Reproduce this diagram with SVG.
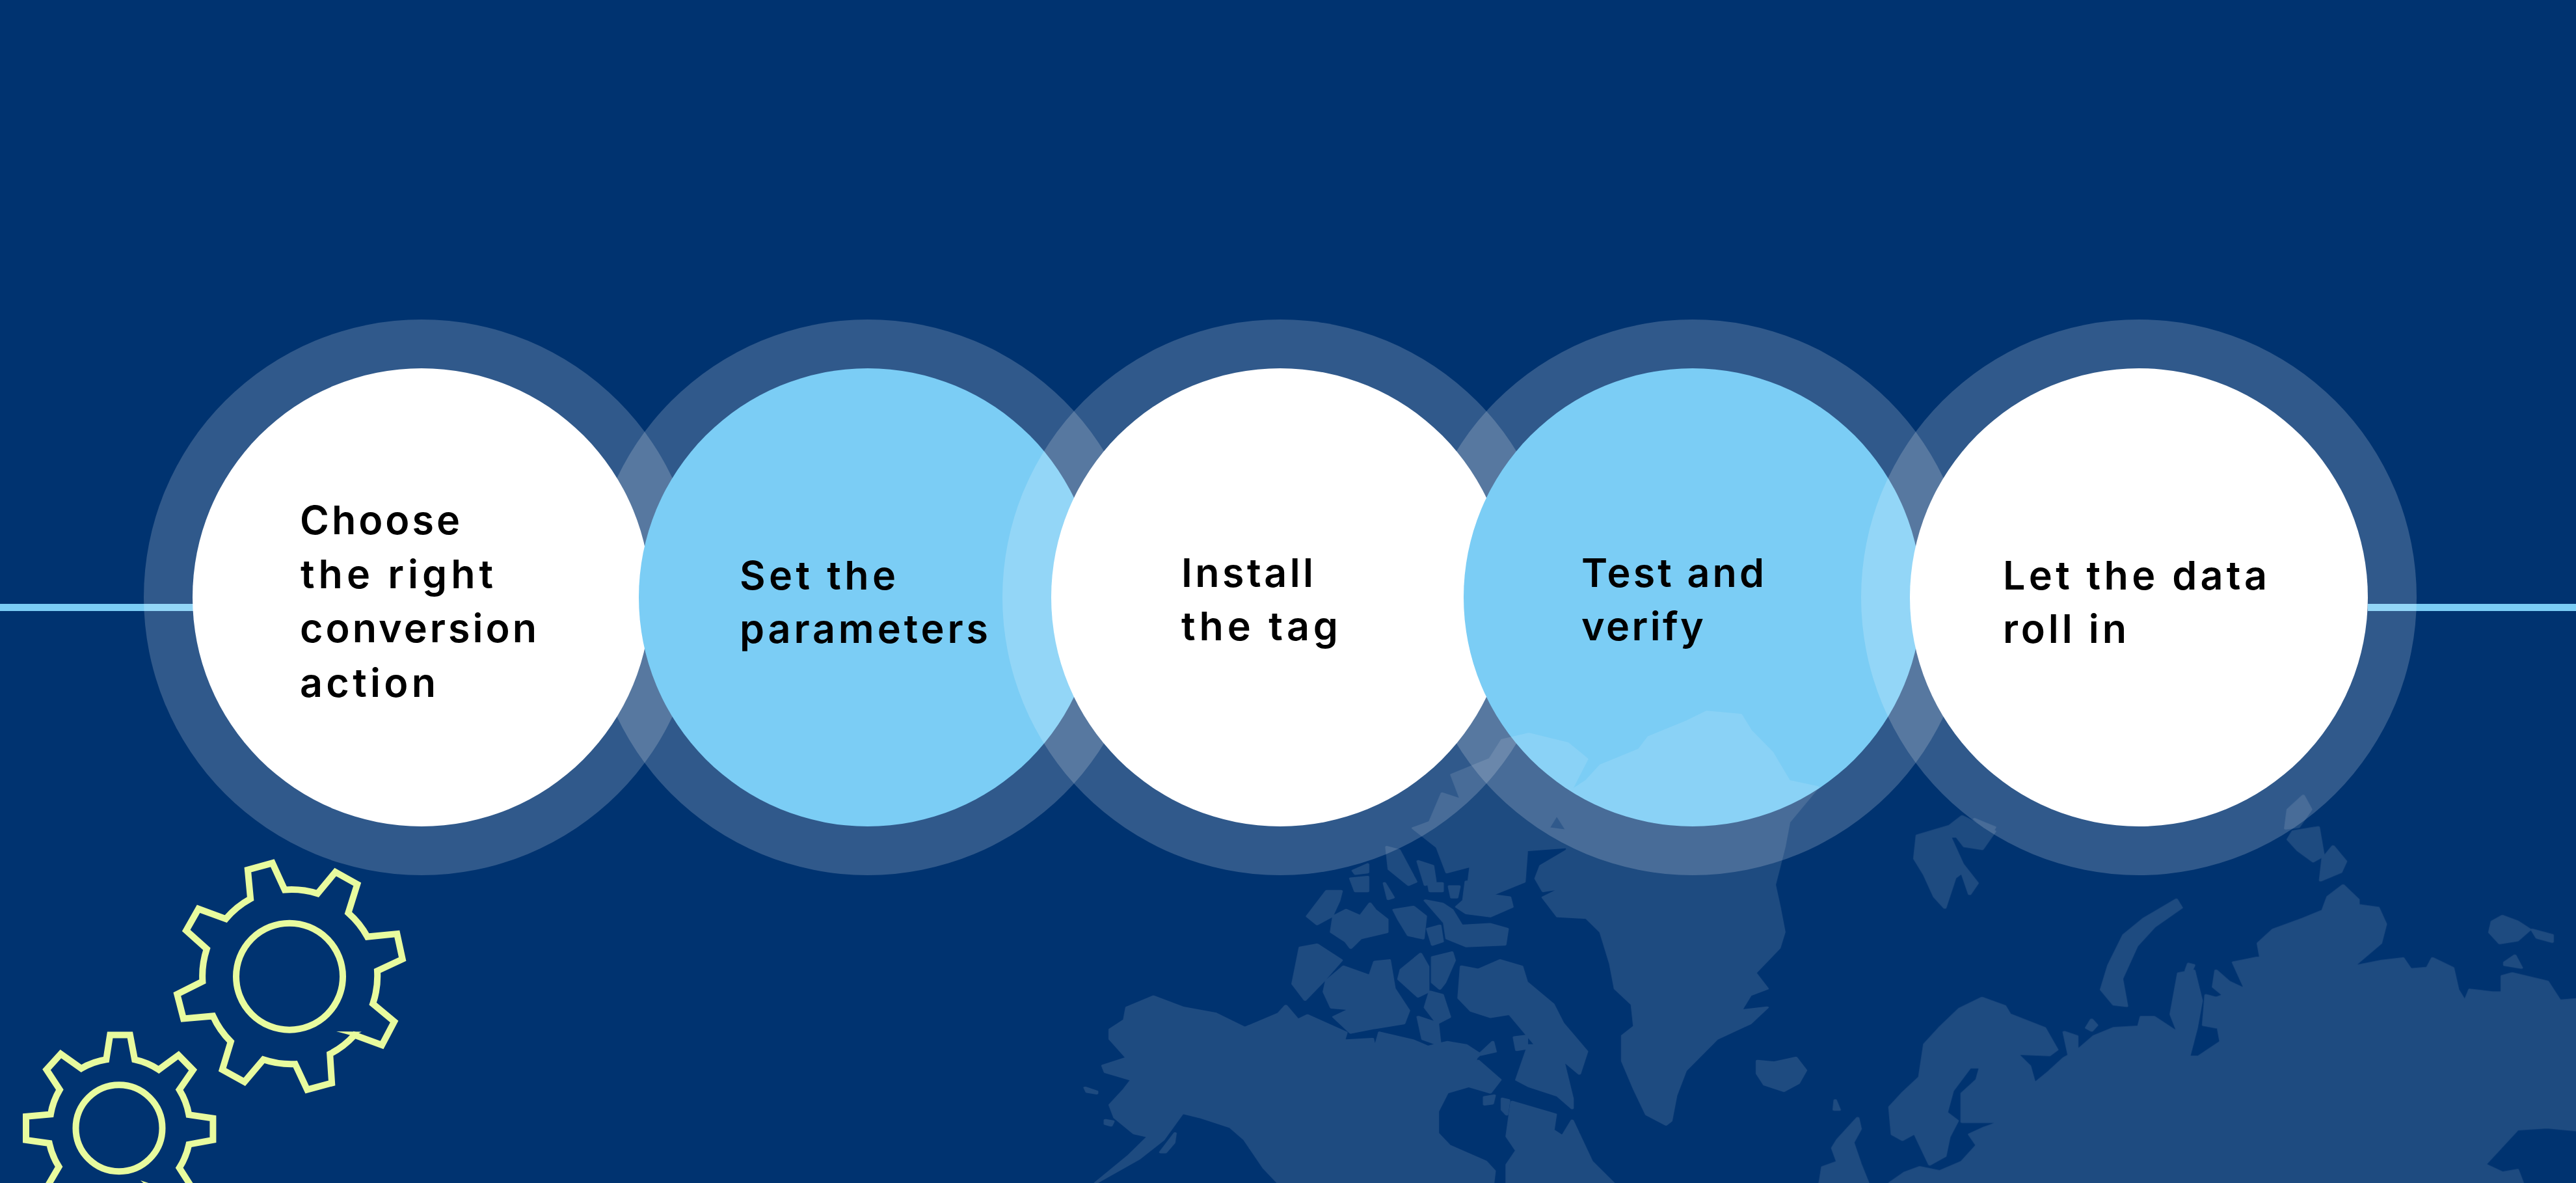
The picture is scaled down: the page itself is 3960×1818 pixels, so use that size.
<svg xmlns="http://www.w3.org/2000/svg" width="3960" height="1818" viewBox="0 0 3960 1818">
<style>
.ring{fill:#fff;fill-opacity:.19}
.w{fill:#fff}
.b{fill:#7bcdf5}
text{font-family:"Inter","Liberation Sans",sans-serif;font-size:61px;font-weight:600;fill:#000}
.gear{fill:none;stroke:#e8fb9e;stroke-width:10;stroke-miterlimit:10}
.spur{fill:#e8fb9e}
.line{fill:#7bcdf5}
#map path{stroke:#fff;stroke-width:7;stroke-linejoin:round}
</style>
<rect width="3960" height="1818" fill="#003370"/>
<g id="connectors">
<rect class="line" x="0" y="928" width="300" height="11"/>
<rect class="line" x="3640" y="928" width="320" height="11"/>
</g>
<g id="step1"><circle class="ring" cx="648" cy="918" r="427"/><circle class="w" cx="648" cy="918" r="352"/></g>
<g id="step2"><circle class="ring" cx="1334" cy="918" r="427"/><circle class="b" cx="1334" cy="918" r="352"/></g>
<g id="step3"><circle class="ring" cx="1968" cy="918" r="427"/><circle class="w" cx="1968" cy="918" r="352"/></g>
<g id="step4"><circle class="ring" cx="2602" cy="918" r="427"/><circle class="b" cx="2602" cy="918" r="352"/></g>
<g id="step5"><circle class="ring" cx="3288" cy="918" r="427"/><circle class="w" cx="3288" cy="918" r="352"/></g>
<g id="map" fill="#fff" opacity=".12">
<g transform="translate(1640 1060) scale(.7398 .4834)">
<path d="M1330 70L1290 100 1210 150 1190 190 1110 240 1080 290 1040 330 1020 400 1045 460 1040 510 985 560 975 600 990 640 1030 630 990 660 1020 720 1080 725 1110 770 1130 870 1140 950 1175 1000 1180 1070 1155 1100 1155 1180 1180 1270 1205 1350 1245 1382 1255 1370 1265 1290 1285 1210 1350 1110 1420 1060 1455 1010 1400 1020 1420 970 1455 950 1430 900 1480 820 1490 770 1480 690 1470 620 1490 500 1500 420 1560 310 1500 290 1465 200 1420 130 1400 80Z"/>
<path d="M960 140L905 160 880 220 800 270 820 350 780 330 755 420 720 440 770 500 790 580 840 560 835 620 870 660 950 610 955 510 1040 500 1050 450 1000 440 1040 340 1080 220 1040 170Z"/>
<path d="M180 975L240 1010 310 1030 370 1075 440 1030 455 1005 480 1050 500 1035 580 1090 575 1115 635 1110 640 1145 650 1090 720 1115 750 1135 790 1120 830 1130 860 1160 890 1150 885 1120 850 1170 835 1260 790 1280 770 1340 770 1410 795 1450 870 1500 888 1530 885 1568 440 1568 410 1520 370 1430 340 1390 280 1360 240 1345 200 1430 150 1490 60 1568 130 1480 170 1420 140 1410 100 1360 90 1320 120 1270 135 1240 80 1215 75 1195 125 1170 90 1110 90 1080 120 1050 125 1010Z"/>
<path d="M915 1568L915 1510 935 1465 915 1420 925 1310 1015 1350 1010 1400 1030 1420 1050 1370 1090 1500 1135 1568Z"/>
<path d="M855 890L900 860 945 880 955 930 1010 1000 1030 1060 1080 1150 1065 1220 1030 1175 1050 1300 1050 1330 1020 1290 960 1260 935 1240 960 1130 975 1130 920 1030 880 1040 840 1020 815 980 820 880Z"/>
<path d="M835 1260L855 1180 900 1240 880 1280Z"/>
<path d="M930 1105L955 1100 955 1140 935 1145Z"/>
<path d="M868 1295L888 1290 884 1315 868 1318Z"/>
<path d="M905 1300L918 1305 914 1350 905 1335Z"/>
<path d="M195 1470L225 1410 222 1440 205 1470Z"/>
<path d="M80 1368L96 1372 92 1385 80 1380Z"/>
<path d="M540 925L575 880 630 910 640 865 670 860 680 950 710 1020 700 1060 640 1075 590 1090 555 1040 590 1015 550 1010 535 960Z"/>
<path d="M485 820L520 810 570 860 530 930 495 985 470 935Z"/>
<path d="M695 890L735 840 750 880 750 960 730 975 690 920Z"/>
<path d="M760 850L800 835 805 860 785 930 775 950 760 930Z"/>
<path d="M755 960L780 970 795 1040 770 1060 745 1010Z"/>
<path d="M730 1040L770 1060 775 1130 740 1110Z"/>
<path d="M500 720L540 640 570 640 565 670 550 720 520 745Z"/>
<path d="M555 720L580 700 610 720 630 680 640 700 665 730 665 770 610 790 590 820 580 800 550 770Z"/>
<path d="M590 600L625 595 625 640 600 640Z"/>
<path d="M595 575L625 555 625 580 600 585Z"/>
<path d="M665 500L690 510 725 610 710 620 670 570Z"/>
<path d="M730 545L760 560 765 610 745 620Z"/>
<path d="M660 615L678 660 668 665Z"/>
<path d="M752 615L780 615 780 640 755 640Z"/>
<path d="M795 625L815 625 810 660 800 660Z"/>
<path d="M680 700L720 690 745 720 740 790 710 780 690 730Z"/>
<path d="M750 760L775 750 780 800 760 810Z"/>
<path d="M745 670L780 680 800 700 820 750 880 745 915 760 910 810 830 815 790 790 785 740Z"/>
<path d="M810 690L825 670 830 610 850 610 870 650 920 660 925 690 880 720 830 710Z"/>
<path d="M1435 1180L1470 1185 1515 1170 1535 1210 1520 1250 1490 1275 1450 1255 1435 1220Z"/>
<path d="M38 1265L62 1277 62 1283 42 1278Z"/>
</g>
<g transform="translate(2760 1160) scale(.7653 .4196)">
<path d="M245 295L310 260 335 225 385 270 400 280 375 345 340 335 325 300 310 300 335 400 365 470 350 510 335 430 320 450 300 560 280 520 260 440 240 380Z"/>
<path d="M765 530L775 560 720 630 685 700 655 820 665 920 640 915 615 860 630 770 660 660 700 600Z"/>
<path d="M1020 150L1035 200 1010 265 985 270 990 200Z"/>
<path d="M1000 280L1050 265 1060 370 1040 390 1010 350 990 310Z"/>
<path d="M1080 335L1105 390 1095 430 1055 460 1060 380Z"/>
<path d="M1100 478L1130 530 1130 550 1170 560 1185 620 1175 690 1120 775 1175 755 1220 745 1235 785 1270 780 1280 745 1320 780 1330 860 1345 905 1355 860 1400 870 1420 870 1420 810 1440 800 1510 830 1535 900 1568 895 1568 1375 1510 1365 1450 1372 1385 1500 1420 1530 1450 1520 1460 1568 190 1568 220 1530 250 1510 290 1525 335 1490 365 1430 350 1390 380 1365 410 1345 335 1345 335 1240 365 1190 372 1145 350 1145 315 1230 303 1310 325 1340 308 1400 300 1470 270 1500 240 1385 215 1410 195 1390 190 1290 215 1240 250 1180 260 1060 290 1000 330 930 375 890 420 920 430 950 500 1000 525 1080 510 1100 445 1095 470 1140 480 1205 510 1160 540 1110 550 1100 540 1015 565 1030 565 1085 600 1030 640 1000 690 995 695 960 720 960 770 1020 755 950 770 800 800 790 815 900 805 1000 790 1105 810 1105 855 1050 850 1000 820 990 825 880 845 890 860 880 840 850 845 790 870 830 905 860 880 760 935 740 930 690 960 640 1020 600 1060 570 1070 520Z"/>
<path d="M1400 610L1420 590 1450 610 1475 640 1450 680 1415 690 1395 650Z"/>
<path d="M1480 640L1520 660 1520 685 1490 670Z"/>
<path d="M1425 760L1445 735 1458 780 1425 770Z"/>
<path d="M790 765L800 770 795 790 785 790Z"/>
<path d="M595 970L605 990 595 1010 585 1000Z"/>
<path d="M85 1410L125 1330 130 1370 115 1420 130 1500 145 1568 50 1568 55 1510 85 1490 75 1440Z"/>
<path d="M80 1265L88 1300 78 1300Z"/>
<path d="M360 235L400 265 395 280Z"/>
</g>
</g>
<g id="gears">
<g id="gear-large">
<circle class="gear" cx="445" cy="1500.7" r="82"/>
<path class="gear" d="M385.100 1381.200L380.900 1336.600 418.800 1326.300 437.700 1367.500A133 133 0 0 1 488.200 1373.300L515.600 1340.100 549.200 1358.900 535.400 1402.900A133 133 0 0 1 564.800 1439.600L610.300 1435.100 618.700 1473.900 580 1492.100A133 133 0 0 1 573.200 1542.500L606.100 1570 587.100 1606 545 1590.600A133 133 0 0 1 507.200 1619.700L510.100 1664.400 472.200 1674.600 453.700 1635.200A133 133 0 0 1 404.900 1628.300L375.800 1662.600 341.800 1643.800 354.800 1600.900A133 133 0 0 1 327.400 1561.400L282 1565.500 272.300 1527.800 311.400 1508.200A133 133 0 0 1 317.800 1458.400L286.200 1430 305.100 1396.700 347.200 1412.100A133 133 0 0 1 385.100 1381.200Z"/>
<path class="spur" d="M517 1585L556 1585.500 543 1592Z"/>
</g>
<g id="gear-small">
<circle class="gear" cx="183" cy="1733.7" r="66.5"/>
<path class="gear" d="M163.300 1628.300L169.200 1590.600 199.900 1590.600 207.100 1628.300A108 108 0 0 1 244.100 1643.800L274.400 1621.500 296.700 1644.400 275.700 1674.600A108 108 0 0 1 290.400 1713.100L327.400 1718.600 327.400 1751.900 290.400 1758.700A108 108 0 0 1 275.700 1794.800L295.500 1825.600 295.500 1840 71.500 1840 71.500 1825.600 90.500 1793A108 108 0 0 1 75.800 1757L40 1751.900 40 1715.800 77.900 1712.400A108 108 0 0 1 91.800 1674.600L71.500 1643.800 93.400 1619.700 125 1642A108 108 0 0 1 163.300 1628.300Z"/>
<path class="spur" d="M216 1814L250 1825 228 1825Z"/>
</g>
</g>
<g id="labels">
<text x="461" y="821" textLength="246">Choose</text>
<text x="462" y="904" textLength="296">the right</text>
<text x="461" y="987" textLength="364">conversion</text>
<text x="461" y="1071" textLength="209">action</text>
<text x="1137" y="906" textLength="240">Set the</text>
<text x="1137" y="988" textLength="382">parameters</text>
<text x="1816" y="902" textLength="203">Install</text>
<text x="1816" y="984" textLength="241">the tag</text>
<text x="2431" y="902" textLength="281">Test and</text>
<text x="2431" y="984" textLength="188">verify</text>
<text x="3079" y="906" textLength="406">Let the data</text>
<text x="3079" y="988" textLength="190">roll in</text>
</g>
</svg>
